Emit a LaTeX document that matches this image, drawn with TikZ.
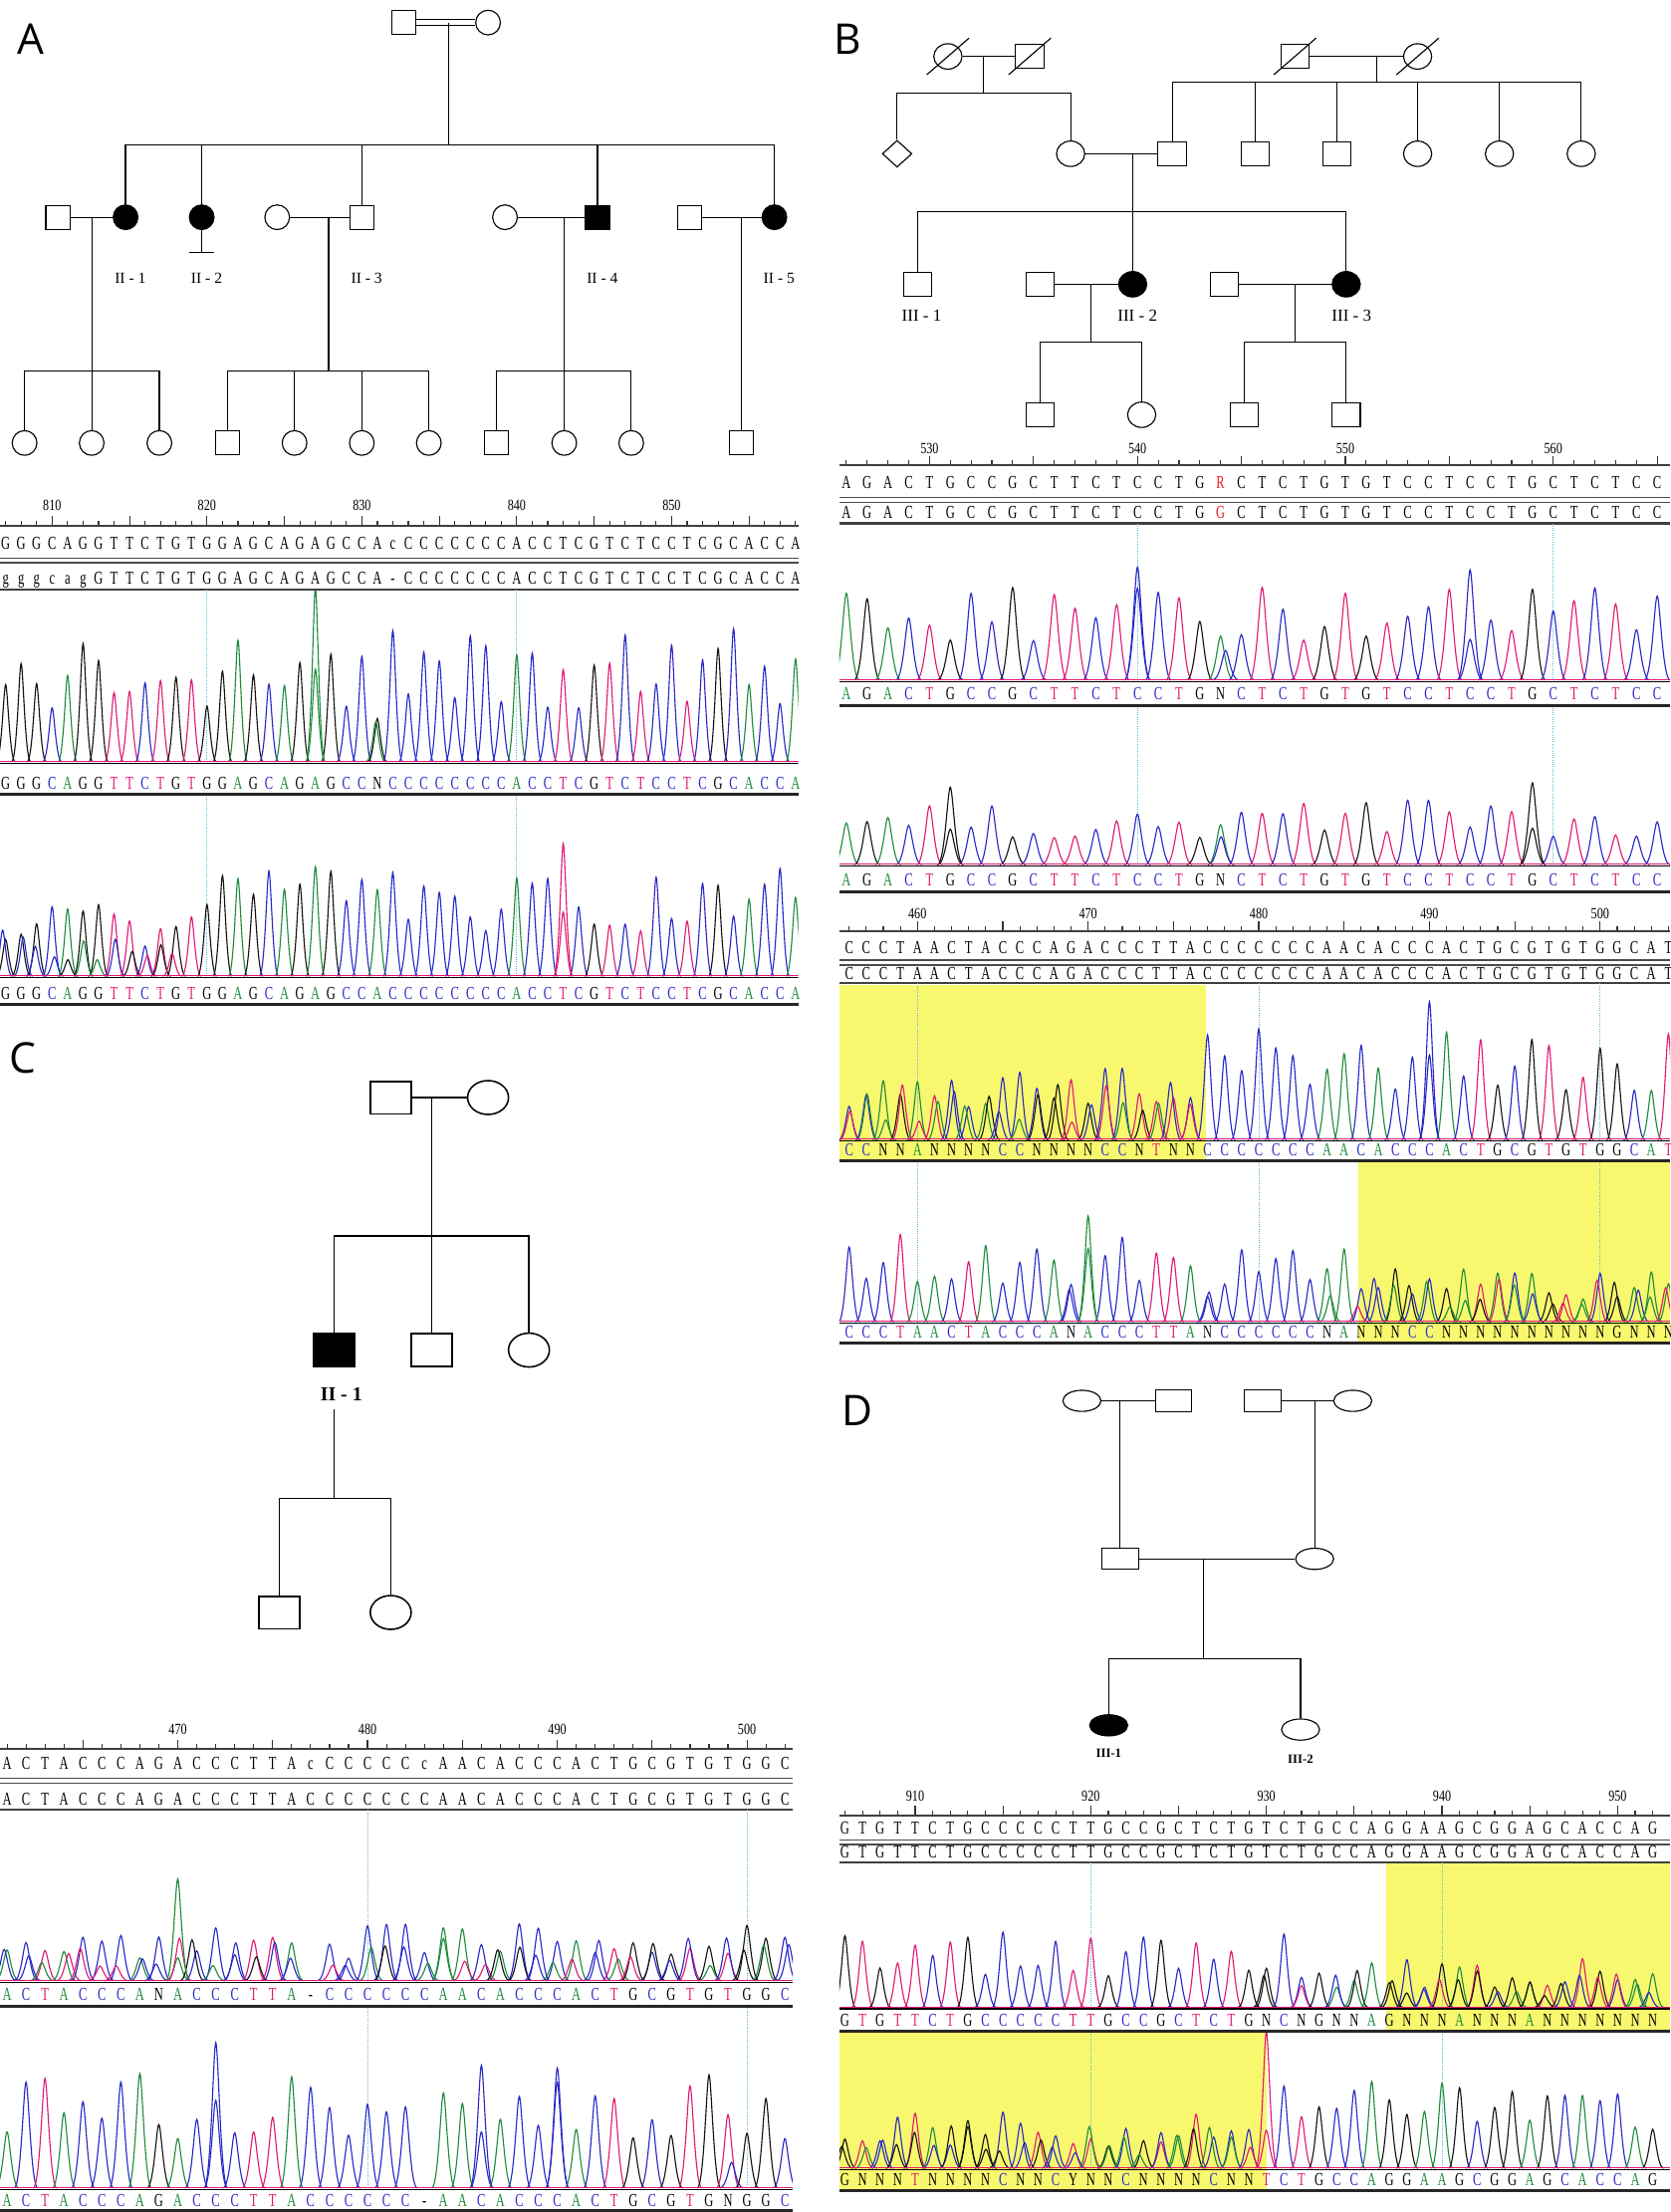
\documentclass[tikz,border=0pt]{standalone}
\usepackage{fontspec}
\setmainfont{Liberation Serif}
\newfontfamily\panelfont{Open Sans}
\usetikzlibrary{shapes.geometric}
\definecolor{cA}{RGB}{30,140,60}
\definecolor{cC}{RGB}{40,40,200}
\definecolor{cT}{RGB}{225,25,115}
\definecolor{cG}{RGB}{20,20,20}
\definecolor{hetyel}{RGB}{248,248,110}
\definecolor{cyanl}{RGB}{90,180,215}
\definecolor{refred}{RGB}{230,30,30}
% ---- sequence rows ----
\newif\ifseqcolor
\newcount\seqidx
\def\basecol#1{%
  \ifseqcolor
    \if A#1\def\bcol{cA}\else
    \if C#1\def\bcol{cC}\else
    \if T#1\def\bcol{cT}\else
    \def\bcol{black}\fi\fi\fi
  \else\def\bcol{black}\fi}
\newcommand\seqrow[4]{\def\sqx{#1}\def\sqdx{#2}\def\sqy{#3}\seqidx=0 \seqrowloop#4\relax}
\def\seqrowloop#1{\ifx#1\relax\else\basecol{#1}\node[seqch,text=\bcol] at ({\sqx+\the\seqidx*\sqdx},{\sqy+4.3}) {\scalebox{0.68}[1]{#1}};\advance\seqidx by 1 \expandafter\seqrowloop\fi}
\newcommand\refrow{\seqcolorfalse\seqrow}
\newcommand\callrow{\seqcolortrue\seqrow}
% ---- traces ----
\newif\ifmixpeak
\def\randcol{\pgfmathrandominteger{\rci}{1}{4}%
  \ifcase\rci\or\def\rcol{cA}\or\def\rcol{cC}\or\def\rcol{cG}\or\def\rcol{cT}\fi}
\def\lettercolor#1{%
  \if A#1\def\pcol{cA}\else
  \if C#1\def\pcol{cC}\else
  \if T#1\def\pcol{cT}\else
  \if G#1\def\pcol{cG}\else
  \randcol\let\pcol\rcol\fi\fi\fi\fi}
\def\onepeak#1#2#3{%
  \draw[peakln,#1] ({#2-\pw},\trb) .. controls ({#2-0.42*\pw},\trb) and ({#2-0.2*\pw},{\trb-#3}) .. ({#2},{\trb-#3}) .. controls ({#2+0.2*\pw},{\trb-#3}) and ({#2+0.42*\pw},\trb) .. ({#2+\pw},\trb);}
\def\tracepeak#1{%
  \if -#1\else
  \pgfmathsetmacro\px{\trx+\the\seqidx*\trdx}%
  \mixpeakfalse
  \if N#1\mixpeaktrue\fi
  \if Y#1\mixpeaktrue\fi
  \ifnum\seqidx<\trmf\relax\else\ifnum\seqidx>\trmt\relax\else\mixpeaktrue\fi\fi
  \lettercolor{#1}%
  \ifmixpeak
    \pgfmathsetmacro\ph{\trH*(0.25+0.4*rnd)}%
    \onepeak{\pcol}{\px}{\ph}%
    \randcol
    \pgfmathsetmacro\ph{\trH*(0.15+0.35*rnd)}%
    \pgfmathsetmacro\pxx{\px+(rnd-0.5)*0.5*\trdx}%
    \onepeak{\rcol}{\pxx}{\ph}%
  \else
    \pgfmathsetmacro\ph{\trH*(0.4+0.6*rnd)}%
    \onepeak{\pcol}{\px}{\ph}%
  \fi
  \fi}
\newcommand\trace[7]{\def\trx{#1}\def\trdx{#2}\def\trb{#3}\def\trH{#4}\def\trmf{#5}\def\trmt{#6}\pgfmathsetmacro\pw{0.62*#2}\seqidx=0 \traceloop#7\relax}
\def\traceloop#1{\ifx#1\relax\else\tracepeak{#1}\advance\seqidx by 1 \expandafter\traceloop\fi}
% ---- ruler ----
\newcommand\ruler[6]{%
  \pgfmathtruncatemacro\rn{#5-1}%
  \foreach \ri in {0,...,\rn}{%
    \pgfmathtruncatemacro\rpos{#4+\ri}%
    \pgfmathtruncatemacro\rmodf{mod(\rpos,5)}%
    \pgfmathtruncatemacro\rmodt{mod(\rpos,10)}%
    \ifnum\rmodf=0 \draw[rtick] ({#1+\ri*#2},#3) -- ++(0,-7);\else\draw[rtick] ({#1+\ri*#2},#3) -- ++(0,-3.5);\fi
    \ifnum\rmodt=0 \node[rnum] at ({#1+\ri*#2},#6) {\scalebox{0.78}[1]{\rpos}};\fi
  }}
\begin{document}
\begin{tikzpicture}[x=1pt,y=-1pt,
  ped/.style={line width=0.8pt,black},
  sqA/.style={draw,rectangle,minimum width=17pt,minimum height=17pt,inner sep=0pt,line width=0.8pt},
  ciA/.style={draw,circle,minimum size=17.5pt,inner sep=0pt,line width=0.8pt},
  sqB/.style={draw,rectangle,minimum width=20pt,minimum height=17pt,inner sep=0pt,line width=0.8pt},
  ciB/.style={draw,ellipse,minimum width=20pt,minimum height=18pt,inner sep=0pt,line width=0.8pt},
  diaB/.style={draw,diamond,minimum width=21pt,minimum height=19pt,inner sep=0pt,line width=0.8pt},
  sqC/.style={draw,rectangle,minimum width=29pt,minimum height=23pt,inner sep=0pt,line width=1.1pt},
  ciC/.style={draw,ellipse,minimum width=29pt,minimum height=24pt,inner sep=0pt,line width=1.1pt},
  sqD/.style={draw,rectangle,minimum width=26pt,minimum height=15pt,inner sep=0pt,line width=0.8pt},
  ciD/.style={draw,ellipse,minimum width=27pt,minimum height=15pt,inner sep=0pt,line width=0.8pt},
  aff/.style={fill=black},
  lab/.style={font=\fontsize{11}{11}\selectfont,inner sep=0pt},
  plab/.style={font=\panelfont\fontsize{30}{30}\selectfont,inner sep=0pt},
  seqch/.style={font=\fontsize{13}{13}\selectfont,inner sep=0pt,anchor=base},
  rnum/.style={font=\fontsize{11}{11}\selectfont,inner sep=0pt},
  sepline/.style={line width=2.2pt,black!85},
  thinsep/.style={line width=1.5pt,black!75},
  dbl/.style={line width=1pt,black!70},
  rtick/.style={line width=0.8pt,black!80},
  cyanline/.style={cyanl,line width=0.6pt,densely dotted},
  peakln/.style={line width=0.8pt},
  yel/.style={fill=hetyel}]
\useasboundingbox (0,0) rectangle (1184,1568);
\fill[white] (0,0) rectangle (1184,1568);
\pgfmathsetseed{4242}
% ================= Panel labels =================
\node[plab] (LA) at (22,28) {A};
\node[plab] (LB) at (601,28) {B};
\node[plab] (LC) at (16,750) {C};
\node[plab] (LD) at (608,1000) {D};
% ================= Panel A pedigree =================
\node[sqA] (A11) at (286,16) {};
\node[ciA] (A12) at (346,16) {};
\draw[ped] ([yshift=2pt]A11.east) -- ([yshift=2pt]A12.west);
\draw[ped] ([yshift=-2pt]A11.east) -- ([yshift=-2pt]A12.west);
\coordinate (A1m) at (318,16);
\coordinate (A1s) at (318,103);
\draw[ped] (A1m) -- (A1s);
\node[sqA] (A21s) at (41,154) {};
\node[ciA,aff] (A21) at (89,154) {};
\node[ciA,aff] (A22) at (143,154) {};
\node[ciA] (A23s) at (196.5,154) {};
\node[sqA] (A23) at (256.5,154) {};
\node[ciA] (A24s) at (358,154) {};
\node[sqA,aff] (A24) at (423.6,154) {};
\node[sqA] (A25s) at (489,154) {};
\node[ciA,aff] (A25) at (549,154) {};
\draw[ped] (A21.north) |- (A1s) -| (A25.north);
\foreach \n in {A22,A23,A24} \draw[ped] (\n.north) -- (\n.north |- A1s);
\draw[ped] (A21s) -- (A21);
\draw[ped] (A23s) -- (A23);
\draw[ped] (A24s) -- (A24);
\draw[ped] (A25s) -- (A25);
\coordinate (A22e) at (143,179);
\draw[ped] (A22) -- (A22e);
\draw[ped] ([xshift=-9pt]A22e) -- ([xshift=9pt]A22e);
\node[lab] (LA21) at (92.4,197) {II - 1};
\node[lab] (LA22) at (146.5,197) {II - 2};
\node[lab] (LA23) at (259.9,197) {II - 3};
\node[lab] (LA24) at (427,197) {II - 4};
\node[lab] (LA25) at (552.3,197) {II - 5};
% generation III
\node[ciA] (A31) at (17.4,314) {};
\node[ciA] (A32) at (65,314) {};
\node[ciA] (A33) at (113,314) {};
\node[sqA] (A34) at (161.4,314) {};
\node[ciA] (A35) at (208.8,314) {};
\node[ciA] (A36) at (256.5,314) {};
\node[ciA] (A37) at (304,314) {};
\node[sqA] (A38) at (352,314) {};
\node[ciA] (A39) at (400,314) {};
\node[ciA] (A310) at (447.5,314) {};
\node[sqA] (A311) at (525.4,314) {};
\coordinate (A21m) at (65,154); \coordinate (A21d) at (65,263);
\draw[ped] (A21m) -- (A32);
\draw[ped] (A31.north) |- (A21d) -| (A33.north);
\coordinate (A23m) at (233,154); \coordinate (A23d) at (233,263);
\draw[ped] (A23m) -- (A23d);
\draw[ped] (A34.north) |- (A23d) -| (A37.north);
\foreach \n in {A35,A36} \draw[ped] (\n.north) -- (\n.north |- A23d);
\coordinate (A24m) at (400,154); \coordinate (A24d) at (400,263);
\draw[ped] (A24m) -- (A39);
\draw[ped] (A38.north) |- (A24d) -| (A310.north);
\coordinate (A25m) at (525.4,154);
\draw[ped] (A25m) -- (A311);
% ================= Panel B pedigree =================
\node[ciB] (B11) at (672,40) {};
\node[sqB] (B12) at (730,40) {};
\node[sqB] (B13) at (918,40) {};
\node[ciB] (B14) at (1005,40) {};
\foreach \n in {B11,B12,B13,B14} \draw[ped] ([shift={(-15,13)}]\n.center) -- ([shift={(15,-13)}]\n.center);
\draw[ped] (B11) -- (B12);
\draw[ped] (B13) -- (B14);
\coordinate (B1m) at (697,40); \coordinate (B1s) at (697,66);
\coordinate (B2m) at (976,40); \coordinate (B2s) at (976,58);
\draw[ped] (B1m) -- (B1s);
\draw[ped] (B2m) -- (B2s);
\node[diaB] (B21) at (636,109) {};
\node[ciB] (B22) at (759,109) {};
\node[sqB] (B23) at (831,109) {};
\node[sqB] (B24) at (889.7,109) {};
\node[sqB] (B25) at (947.6,109) {};
\node[ciB] (B26) at (1005,109) {};
\node[ciB] (B27) at (1063,109) {};
\node[ciB] (B28) at (1121,109) {};
\draw[ped] (B21.north) |- (B1s) -| (B22.north);
\draw[ped] (B23.north) |- (B2s) -| (B28.north);
\foreach \n in {B24,B25,B26,B27} \draw[ped] (\n.north) -- (\n.north |- B2s);
\draw[ped] (B22) -- (B23);
\node[sqB] (B31) at (650.4,201.5) {};
\node[sqB] (B32s) at (737.5,201.5) {};
\node[ciB,aff] (B32) at (803,201.5) {};
\node[sqB] (B33s) at (868,201.5) {};
\node[ciB,aff] (B33) at (954.4,201.5) {};
\coordinate (B3m) at (803,109); \coordinate (B3s) at (803,150);
\draw[ped] (B3m) -- (B32);
\draw[ped] (B31.north) |- (B3s) -| (B33.north);
\draw[ped] (B32s) -- (B32);
\draw[ped] (B33s) -- (B33);
\node[lab,font=\fontsize{12}{12}\selectfont] (LB31) at (653.4,223.6) {III - 1};
\node[lab,font=\fontsize{12}{12}\selectfont] (LB32) at (806.4,223.6) {III - 2};
\node[lab,font=\fontsize{12}{12}\selectfont] (LB33) at (958.2,223.6) {III - 3};
\node[sqB] (B41) at (737.5,294) {};
\node[ciB] (B42) at (809.4,294) {};
\node[sqB] (B43) at (882,294) {};
\node[sqB] (B44) at (954.4,294) {};
\coordinate (B4m) at (773.4,201.5); \coordinate (B4s) at (773.4,242.5);
\draw[ped] (B4m) -- (B4s);
\draw[ped] (B41.north) |- (B4s) -| (B42.north);
\coordinate (B5m) at (918,201.5); \coordinate (B5s) at (918,242.5);
\draw[ped] (B5m) -- (B5s);
\draw[ped] (B43.north) |- (B5s) -| (B44.north);
% ================= Panel C pedigree =================
\node[sqC] (C11) at (277,778) {};
\node[ciC] (C12) at (346,778) {};
\draw[ped,line width=1.1pt] (C11) -- (C12);
\node[sqC,aff] (C21) at (237,957) {};
\node[sqC] (C22) at (306,957) {};
\node[ciC] (C23) at (375,957) {};
\coordinate (C1m) at (306,778); \coordinate (C1s) at (306,876);
\draw[ped,line width=1.1pt] (C1m) -- (C22);
\draw[ped,line width=1.1pt] (C21.north) |- (C1s) -| (C23.north);
\node[lab,font=\fontsize{14}{14}\selectfont\bfseries] (LC21) at (242,988) {II - 1};
\node[sqC] (C31) at (198,1143) {};
\node[ciC] (C32) at (277,1143) {};
\coordinate (C2d) at (237,999); \coordinate (C2s) at (237,1062);
\draw[ped,line width=1.1pt] (C2d) -- (C2s);
\draw[ped,line width=1.1pt] (C31.north) |- (C2s) -| (C32.north);
% ================= Panel D pedigree =================
\node[ciD] (D11) at (767,993) {};
\node[sqD] (D12) at (832,993) {};
\node[sqD] (D13) at (895,993) {};
\node[ciD] (D14) at (959,993) {};
\draw[ped] (D11) -- (D12);
\draw[ped] (D13) -- (D14);
\node[sqD] (D21) at (794,1105) {};
\node[ciD] (D22) at (932,1105) {};
\coordinate (D1m) at (794,993); \coordinate (D2m) at (932,993);
\draw[ped] (D1m) -- (D21);
\draw[ped] (D2m) -- (D22);
\draw[ped] (D21) -- (D22);
\node[ciD,aff] (D31) at (786,1223) {};
\node[ciD] (D32) at (922,1226) {};
\coordinate (D3m) at (853,1105); \coordinate (D3s) at (853,1176);
\draw[ped] (D3m) -- (D3s);
\draw[ped] (D31.north) |- (D3s) -| (D32.north);
\node[lab,font=\fontsize{9}{9}\selectfont\bfseries] (LD31) at (786,1243) {III-1};
\node[lab,font=\fontsize{9}{9}\selectfont\bfseries] (LD32) at (922,1247) {III-2};
% ================= Panel A sequence =================
\ruler{4}{10.98}{373}{807}{52}{358}
\draw[thinsep] (0,373) -- (566,373);
\refrow{4}{10.98}{385}{GGGCAGGTTCTGTGGAGCAGAGCCAcCCCCCCCACCTCGTCTCCTCGCACCA}
\draw[dbl] (0,395.5) -- (566,395.5);
\draw[dbl] (0,399) -- (566,399);
\refrow{4}{10.98}{410}{gggcagGTTCTGTGGAGCAGAGCCA-CCCCCCCACCTCGTCTCCTCGCACCA}
\draw[thinsep] (0,418) -- (566,418);
\foreach \cx in {146.7,366.3} {\draw[cyanline] (\cx,418) -- (\cx,540); \draw[cyanline] (\cx,563) -- (\cx,692);}
\begin{scope}
\clip (0,419) rectangle (566,562);
\trace{4}{10.98}{540}{95}{999}{-1}{GGGCAGGTTCTGTGGAGCAGAGCCNCCCCCCCCACCTCGTCTCCTCGCACCA}
\onepeak{cA}{223.6}{123}
\draw[cT,line width=0.6pt] (0,539.5) -- (566,539.5);
\draw[black,line width=0.8pt] (0,541) -- (566,541);
\end{scope}
\callrow{4}{10.98}{555}{GGGCAGGTTCTGTGGAGCAGAGCCNCCCCCCCCACCTCGTCTCCTCGCACCA}
\draw[sepline] (0,563) -- (566,563);
\begin{scope}
\clip (0,564) rectangle (566,711);
\trace{4}{10.98}{692}{78}{0}{11}{GGGCAGGTTCTGTGGAGCAGAGCCACCCCCCCCACCTCGTCTCCTCGCACCA}
\onepeak{cT}{399.3}{94}
\draw[cT,line width=0.6pt] (0,691.5) -- (566,691.5);
\draw[black,line width=0.8pt] (0,693) -- (566,693);
\end{scope}
\callrow{4}{10.98}{704}{GGGCAGGTTCTGTGGAGCAGAGCCACCCCCCCCACCTCGTCTCCTCGCACCA}
\draw[sepline] (0,712) -- (566,712);
% ================= Panel B sequence 1 =================
\ruler{600}{14.74}{330}{526}{40}{318}
\draw[thinsep] (595,330) -- (1184,330);
\refrow{600}{14.74}{342}{AGACTGCCGCTTCTCCTG}
\node[seqch,text=refred] (BR1) at (865.3,346.3) {\scalebox{0.68}[1]{R}};
\refrow{880.06}{14.74}{342}{CTCTGTGTCCTCCTGCTCTCC}
\draw[dbl] (595,352.5) -- (1184,352.5);
\draw[dbl] (595,356) -- (1184,356);
\refrow{600}{14.74}{363}{AGACTGCCGCTTCTCCTG}
\node[seqch,text=refred] (BR2) at (865.3,367.3) {\scalebox{0.68}[1]{G}};
\refrow{880.06}{14.74}{363}{CTCTGTGTCCTCCTGCTCTCC}
\draw[thinsep] (595,371) -- (1184,371);
\foreach \cx in {806.4,1101.2} {\draw[cyanline] (\cx,371) -- (\cx,482); \draw[cyanline] (\cx,500) -- (\cx,613);}
\begin{scope}
\clip (595,372) rectangle (1184,499);
\trace{600}{14.74}{482}{68}{999}{-1}{AGACTGCCGCTTCTCCTGNCTCTGTGTCCTCCTGCTCTCC}
\onepeak{cC}{806.4}{80}
\onepeak{cC}{1042.2}{78}
\draw[cT,line width=0.6pt] (595,481.5) -- (1184,481.5);
\draw[black,line width=0.8pt] (595,483) -- (1184,483);
\end{scope}
\callrow{600}{14.74}{492}{AGACTGCCGCTTCTCCTGNCTCTGTGTCCTCCTGCTCTCC}
\draw[sepline] (595,500) -- (1184,500);
\begin{scope}
\clip (595,501) rectangle (1184,631);
\trace{600}{14.74}{613}{46}{999}{-1}{AGACTGCCGCTTCTCCTGNCTCTGTGTCCTCCTGCTCTCC}
\onepeak{cG}{1086.4}{58}
\onepeak{cG}{673.7}{55}
\draw[cT,line width=0.6pt] (595,612.5) -- (1184,612.5);
\draw[black,line width=0.8pt] (595,614) -- (1184,614);
\end{scope}
\callrow{600}{14.74}{624}{AGACTGCCGCTTCTCCTGNCTCTGTGTCCTCCTGCTCTCC}
\draw[sepline] (595,632) -- (1184,632);
% ================= Panel B sequence 2 =================
\ruler{602}{12.1}{660}{456}{49}{648}
\draw[thinsep] (595,660) -- (1184,660);
\refrow{602}{12.1}{672}{CCCTAACTACCCAGACCCTTACCCCCCCAACACCCACTGCGTGTGGCAT}
\draw[dbl] (595,680.5) -- (1184,680.5);
\draw[dbl] (595,684) -- (1184,684);
\refrow{602}{12.1}{690}{CCCTAACTACCCAGACCCTTACCCCCCCAACACCCACTGCGTGTGGCAT}
\draw[thinsep] (595,697) -- (1184,697);
\fill[hetyel] (595,698) rectangle (855,822);
\fill[hetyel] (963,824) rectangle (1184,951);
\foreach \cx in {650.4,892.4,1134.4} {\draw[cyanline] (\cx,697) -- (\cx,808); \draw[cyanline] (\cx,823) -- (\cx,937);}
\begin{scope}
\clip (595,698) rectangle (1184,822);
\trace{602}{12.1}{808}{82}{0}{20}{CCNNANNNNCCNNNNCCNTNNCCCCCCCAACACCCACTGCGTGTGGCAT}
\onepeak{cC}{1013.4}{98}
\draw[cT,line width=0.6pt] (595,807.5) -- (1184,807.5);
\draw[black,line width=0.8pt] (595,809) -- (1184,809);
\end{scope}
\callrow{602}{12.1}{815}{CCNNANNNNCCNNNNCCNTNNCCCCCCCAACACCCACTGCGTGTGGCAT}
\draw[sepline] (595,823) -- (1184,823);
\begin{scope}
\clip (595,824) rectangle (1184,951);
\trace{602}{12.1}{937}{62}{30}{48}{CCCTAACTACCCANACCCTTANCCCCCCNANNNCCNNNNNNNNNNGNNN}
\onepeak{cA}{771.4}{75}
\draw[cT,line width=0.6pt] (595,936.5) -- (1184,936.5);
\draw[black,line width=0.8pt] (595,938) -- (1184,938);
\end{scope}
\callrow{602}{12.1}{944}{CCCTAACTACCCANACCCTTANCCCCCCNANNNCCNNNNNNNNNNGNNN}
\draw[sepline] (595,952) -- (1184,952);
% ================= Panel C sequence =================
\ruler{5}{13.45}{1240}{461}{42}{1226}
\draw[thinsep] (0,1240) -- (562,1240);
\refrow{5}{13.45}{1250}{ACTACCCAGACCCTTAcCCCCCcAACACCCACTGCGTGTGGC}
\draw[dbl] (0,1260.5) -- (562,1260.5);
\draw[dbl] (0,1264) -- (562,1264);
\refrow{5}{13.45}{1275}{ACTACCCAGACCCTTACCCCCCCAACACCCACTGCGTGTGGC}
\draw[thinsep] (0,1283) -- (562,1283);
\foreach \cx in {260.6,529.6} {\draw[cyanline] (\cx,1283) -- (\cx,1404); \draw[cyanline] (\cx,1422) -- (\cx,1551);}
\begin{scope}
\clip (0,1284) rectangle (562,1421);
\trace{5}{13.45}{1404}{62}{0}{41}{ACTACCCANACCCTTA-CCCCCCAACACCCACTGCGTGTGGC}
\onepeak{cA}{126}{72}
\draw[cT,line width=0.6pt] (0,1403.5) -- (562,1403.5);
\draw[black,line width=0.8pt] (0,1405) -- (562,1405);
\end{scope}
\callrow{5}{13.45}{1414}{ACTACCCANACCCTTA-CCCCCCAACACCCACTGCGTGTGGC}
\draw[sepline] (0,1422) -- (562,1422);
\begin{scope}
\clip (0,1423) rectangle (562,1566);
\trace{5}{13.45}{1551}{82}{999}{-1}{ACTACCCAGACCCTTACCCCCC-AACACCCACTGCGTGNGGC}
\onepeak{cC}{153}{103}
\onepeak{cC}{341.3}{87}
\onepeak{cC}{395.1}{85}
\draw[cT,line width=0.6pt] (0,1550.5) -- (562,1550.5);
\draw[black,line width=0.8pt] (0,1552) -- (562,1552);
\end{scope}
\callrow{5}{13.45}{1560}{ACTACCCAGACCCTTACCCCCC-AACACCCACTGCGTGNGGC}
\draw[sepline] (0,1567) -- (562,1567);
% ================= Panel D sequence =================
\ruler{599}{12.45}{1287}{906}{47}{1273}
\draw[thinsep] (595,1287) -- (1184,1287);
\refrow{599}{12.45}{1296}{GTGTTCTGCCCCCTTGCCGCTCTGTCTGCCAGGAAGCGGAGCACCAG}
\draw[dbl] (595,1304.5) -- (1184,1304.5);
\draw[dbl] (595,1307.5) -- (1184,1307.5);
\refrow{599}{12.45}{1313}{GTGTTCTGCCCCCTTGCCGCTCTGTCTGCCAGGAAGCGGAGCACCAG}
\draw[thinsep] (595,1320) -- (1184,1320);
\fill[hetyel] (983,1321) rectangle (1184,1439);
\fill[hetyel] (595,1441) rectangle (898,1552);
\foreach \cx in {773.3,1022.3} {\draw[cyanline] (\cx,1320) -- (\cx,1423); \draw[cyanline] (\cx,1440) -- (\cx,1537);}
\begin{scope}
\clip (595,1321) rectangle (1184,1439);
\trace{599}{12.45}{1423}{55}{31}{46}{GTGTTCTGCCCCCTTGCCGCTCTGNCNGNNAGNNNANNNANNNNNNN}
\draw[cT,line width=0.6pt] (595,1422.5) -- (1184,1422.5);
\draw[black,line width=0.8pt] (595,1424) -- (1184,1424);
\end{scope}
\callrow{599}{12.45}{1432}{GTGTTCTGCCCCCTTGCCGCTCTGNCNGNNAGNNNANNNANNNNNNN}
\draw[sepline] (595,1440) -- (1184,1440);
\begin{scope}
\clip (595,1441) rectangle (1184,1552);
\trace{599}{12.45}{1537}{62}{0}{23}{GNNNTNNNNCNNCYNNCNNNNCNNTCTGCCAGGAAGCGGAGCACCAG}
\onepeak{cT}{897.8}{97}
\draw[cT,line width=0.6pt] (595,1536.5) -- (1184,1536.5);
\draw[black,line width=0.8pt] (595,1538) -- (1184,1538);
\end{scope}
\callrow{599}{12.45}{1545}{GNNNTNNNNCNNCYNNCNNNNCNNTCTGCCAGGAAGCGGAGCACCAG}
\draw[sepline] (595,1553) -- (1184,1553);
\end{tikzpicture}
\end{document}
